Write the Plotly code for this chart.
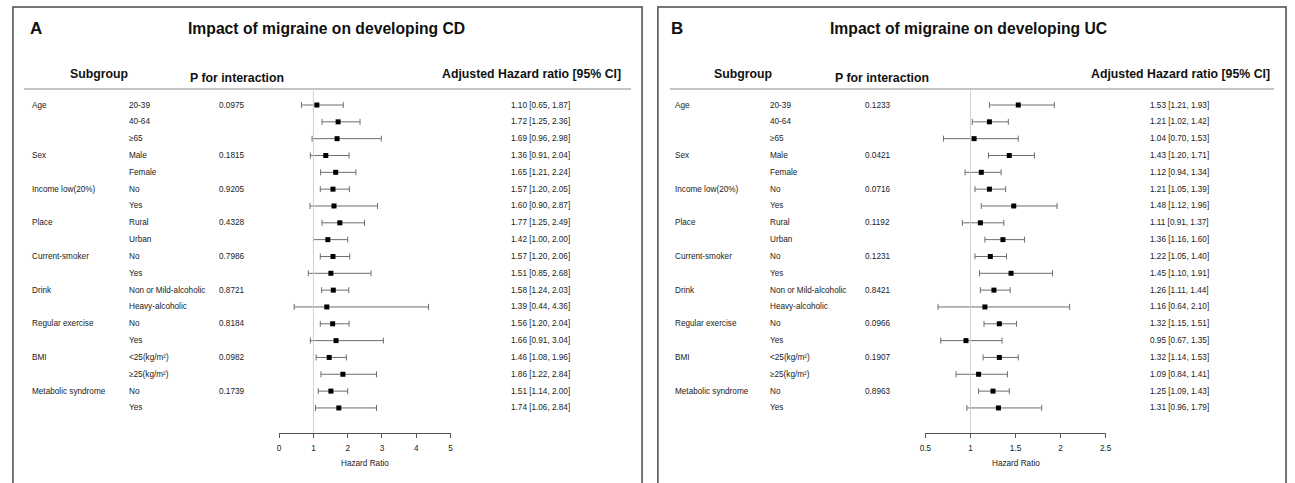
import plotly.graph_objects as go

W, H = 1295, 483

# ---------------- data ----------------
variables = ["Age", "Sex", "Income low(20%)", "Place", "Current-smoker", "Drink",
             "Regular exercise", "BMI", "Metabolic syndrome"]
levels = [["20-39", "40-64", "≥65"], ["Male", "Female"], ["No", "Yes"], ["Rural", "Urban"],
          ["No", "Yes"], ["Non or Mild-alcoholic", "Heavy-alcoholic"], ["No", "Yes"],
          ["<25(kg/m²)", "≥25(kg/m²)"], ["No", "Yes"]]

p_cd = ["0.0975", "0.1815", "0.9205", "0.4328", "0.7986", "0.8721", "0.8184", "0.0982", "0.1739"]
p_uc = ["0.1233", "0.0421", "0.0716", "0.1192", "0.1231", "0.8421", "0.0966", "0.1907", "0.8963"]

hr_cd = [1.10, 1.72, 1.69, 1.36, 1.65, 1.57, 1.60, 1.77, 1.42, 1.57, 1.51, 1.58, 1.39, 1.56, 1.66, 1.46, 1.86, 1.51, 1.74]
lo_cd = [0.65, 1.25, 0.96, 0.91, 1.21, 1.20, 0.90, 1.25, 1.00, 1.20, 0.85, 1.24, 0.44, 1.20, 0.91, 1.08, 1.22, 1.14, 1.06]
hi_cd = [1.87, 2.36, 2.98, 2.04, 2.24, 2.05, 2.87, 2.49, 2.00, 2.06, 2.68, 2.03, 4.36, 2.04, 3.04, 1.96, 2.84, 2.00, 2.84]

hr_uc = [1.53, 1.21, 1.04, 1.43, 1.12, 1.21, 1.48, 1.11, 1.36, 1.22, 1.45, 1.26, 1.16, 1.32, 0.95, 1.32, 1.09, 1.25, 1.31]
lo_uc = [1.21, 1.02, 0.70, 1.20, 0.94, 1.05, 1.12, 0.91, 1.16, 1.05, 1.10, 1.11, 0.64, 1.15, 0.67, 1.14, 0.84, 1.09, 0.96]
hi_uc = [1.93, 1.42, 1.53, 1.71, 1.34, 1.39, 1.96, 1.37, 1.60, 1.40, 1.91, 1.44, 2.10, 1.51, 1.35, 1.53, 1.41, 1.43, 1.79]

ticks_cd = [0, 1, 2, 3, 4, 5]
tick_text_cd = ["0", "1", "2", "3", "4", "5"]
ticks_uc = [0.5, 1, 1.5, 2, 2.5]
tick_text_uc = ["0.5", "1", "1.5", "2", "2.5"]

titles = ["Impact of migraine on developing CD", "Impact of migraine on developing UC"]
panel_letters = ["A", "B"]

# ---------------- layout helpers ----------------
ROW0, ROWSTEP = 105.0, 16.83
n_rows = sum(len(l) for l in levels)
y_top = -ROW0 / ROWSTEP
y_bot = (H - ROW0) / ROWSTEP


def px(x):
    return x / W


def py(y):
    return 1 - y / H


FONT = "Liberation Sans, Arial, sans-serif"
BODY = 8.2
TXT = "#222222"

panels = [
    dict(box=(7, 642), letter_x=22, title_c=324, sub_x=63, pint_x=184, adj_r=623,
         hline=(18, 631), var_x=24, lev_x=122, p_x=213, forest=(275.7, 448.7),
         ci_x=508, rng=(0, 5), ticks=ticks_cd, ticktext=tick_text_cd,
         hr=hr_cd, lo=lo_cd, hi=hi_cd, p=p_cd, xa="x", axname="xaxis"),
    dict(box=(658, 1292), letter_x=669, title_c=972, sub_x=713, pint_x=835, adj_r=1278,
         hline=(670, 1280), var_x=673, lev_x=769, p_x=865, forest=(928, 1110),
         ci_x=1153, rng=(0.5, 2.5), ticks=ticks_uc, ticktext=tick_text_uc,
         hr=hr_uc, lo=lo_uc, hi=hi_uc, p=p_uc, xa="x2", axname="xaxis2"),
]

fig = go.Figure()
annotations = []
shapes = []
AXIS_Y = 433

for k, pn in enumerate(panels):
    rows = list(range(n_rows))
    fig.add_trace(go.Scatter(
        x=pn["hr"], y=rows, xaxis=pn["xa"], yaxis="y", mode="markers",
        marker=dict(symbol="square", size=5, color="black"),
        error_x=dict(type="data", symmetric=False,
                     array=[h - m for h, m in zip(pn["hi"], pn["hr"])],
                     arrayminus=[m - l for m, l in zip(pn["hr"], pn["lo"])],
                     color="#6e6e6e", thickness=1, width=3),
        cliponaxis=False, showlegend=False, hoverinfo="skip"))

    # axis
    f0, f1 = pn["forest"]
    fig.update_layout(**{pn["axname"]: dict(
        domain=[px(f0), px(f1)], range=list(pn["rng"]), anchor="free",
        position=py(AXIS_Y), showgrid=False, zeroline=False, showline=True,
        linecolor="#555555", linewidth=1, ticks="outside", ticklen=4,
        tickcolor="#555555", tickwidth=1, tickvals=pn["ticks"], ticktext=pn["ticktext"],
        tickfont=dict(family=FONT, size=BODY, color=TXT), ticklabelstandoff=3,
        fixedrange=True)})

    # reference line at HR = 1
    shapes.append(dict(type="line", xref=pn["xa"], yref="paper", x0=1, x1=1,
                       y0=py(91), y1=py(AXIS_Y), line=dict(color="#d0d0d0", width=1)))
    # panel border
    b0, b1 = pn["box"]
    shapes.append(dict(type="rect", xref="paper", yref="paper", x0=px(b0), x1=px(b1),
                       y0=py(495), y1=py(7), line=dict(color="#4a4a4a", width=1.5)))
    # header rule
    h0, h1 = pn["hline"]
    shapes.append(dict(type="line", xref="paper", yref="paper", x0=px(h0), x1=px(h1),
                       y0=py(89), y1=py(89), line=dict(color="#8a8a8a", width=1)))

    # letter & title
    annotations.append(dict(text="<b>%s</b>" % panel_letters[k], x=px(pn["letter_x"]), y=py(28),
                            xref="paper", yref="paper", xanchor="left", yanchor="middle",
                            showarrow=False, font=dict(family=FONT, size=17, color="#111")))
    annotations.append(dict(text="<b>%s</b>" % titles[k], x=px(pn["title_c"]), y=py(28),
                            xref="paper", yref="paper", xanchor="center", yanchor="middle",
                            showarrow=False, font=dict(family=FONT, size=15.7, color="#111")))
    # headers
    annotations.append(dict(text="<b>Subgroup</b>", x=px(pn["sub_x"]), y=py(74),
                            xref="paper", yref="paper", xanchor="left", yanchor="middle",
                            showarrow=False, font=dict(family=FONT, size=12.3, color="#111")))
    annotations.append(dict(text="<b>P for interaction</b>", x=px(pn["pint_x"]), y=py(78),
                            xref="paper", yref="paper", xanchor="left", yanchor="middle",
                            showarrow=False, font=dict(family=FONT, size=12.3, color="#111")))
    annotations.append(dict(text="<b>Adjusted Hazard ratio [95% CI]</b>", x=px(pn["adj_r"]), y=py(74),
                            xref="paper", yref="paper", xanchor="right", yanchor="middle",
                            showarrow=False, font=dict(family=FONT, size=12.3, color="#111")))
    # axis title
    annotations.append(dict(text="Hazard Ratio", x=px((f0 + f1) / 2), y=py(463),
                            xref="paper", yref="paper", xanchor="center", yanchor="middle",
                            showarrow=False, font=dict(family=FONT, size=BODY, color=TXT)))

    # rows
    r = 0
    for vi, var in enumerate(variables):
        annotations.append(dict(text=var, x=px(pn["var_x"]), y=r, xref="paper", yref="y",
                                xanchor="left", yanchor="middle", showarrow=False,
                                font=dict(family=FONT, size=BODY, color=TXT)))
        annotations.append(dict(text=pn["p"][vi], x=px(pn["p_x"]), y=r, xref="paper", yref="y",
                                xanchor="left", yanchor="middle", showarrow=False,
                                font=dict(family=FONT, size=BODY, color=TXT)))
        for lev in levels[vi]:
            annotations.append(dict(text=lev, x=px(pn["lev_x"]), y=r, xref="paper", yref="y",
                                    xanchor="left", yanchor="middle", showarrow=False,
                                    font=dict(family=FONT, size=BODY, color=TXT)))
            ci = "%.2f [%.2f, %.2f]" % (pn["hr"][r], pn["lo"][r], pn["hi"][r])
            annotations.append(dict(text=ci, x=px(pn["ci_x"]), y=r, xref="paper", yref="y",
                                    xanchor="left", yanchor="middle", showarrow=False,
                                    font=dict(family=FONT, size=BODY, color=TXT)))
            r += 1

fig.update_layout(
    width=W, height=H, margin=dict(l=0, r=0, t=0, b=0),
    paper_bgcolor="white", plot_bgcolor="rgba(0,0,0,0)",
    yaxis=dict(domain=[0, 1], range=[y_bot, y_top], visible=False, fixedrange=True),
    annotations=annotations, shapes=shapes, showlegend=False,
)

fig.write_html("out.html", config={"displayModeBar": False},
               post_script="document.body.style.margin='0';document.body.style.padding='0';")
